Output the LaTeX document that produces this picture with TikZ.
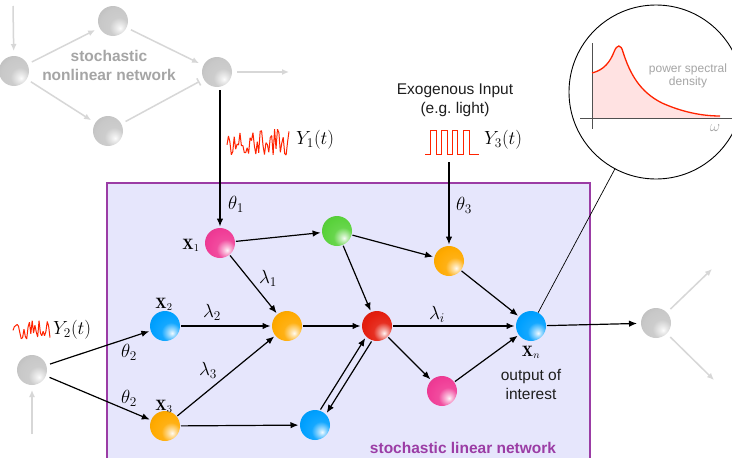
\RequirePackage{fix-cm}
\documentclass[tikz,border=0pt]{standalone}
\usepackage{fontspec}
\newfontfamily\hel{Liberation Sans}
\usetikzlibrary{arrows.meta}
\definecolor{cpink}{RGB}{240,60,150}
\definecolor{cgreen}{RGB}{90,210,60}
\definecolor{corange}{RGB}{255,170,0}
\definecolor{cblue}{RGB}{0,160,255}
\definecolor{cred}{RGB}{228,30,15}
\definecolor{cgray}{RGB}{200,200,200}
\definecolor{boxfill}{RGB}{230,230,252}
\definecolor{boxdraw}{RGB}{155,60,165}
\definecolor{cgline}{RGB}{215,215,215}
\definecolor{cgtext}{RGB}{165,165,165}
\definecolor{ctext}{RGB}{30,30,30}
\definecolor{cnoise}{RGB}{255,35,0}
\definecolor{cpsd}{RGB}{255,226,226}
\definecolor{caxis}{RGB}{80,80,80}
\makeatletter
\pgfdeclareradialshading[tikz@ball]{sphere}{\pgfpoint{12bp}{-12bp}}{%
color(0bp)=(tikz@ball!5!white); color(5bp)=(tikz@ball!35!white);
color(16bp)=(tikz@ball!92!white); color(30bp)=(tikz@ball);
color(50bp)=(tikz@ball!90!black); color(100bp)=(tikz@ball!90!black)}
\makeatother
\tikzset{
  sph/.style={circle, minimum size=30pt, inner sep=0pt, outer sep=0pt, ball color=#1, shading=sphere},
  arr/.style={draw=black, line width=1.2pt, -{Latex[length=8pt,width=6.5pt]}, shorten <=1pt, shorten >=1.5pt},
  garr/.style={draw=cgline, line width=1.5pt, -{Latex[length=7pt,width=6pt]}, shorten <=5pt, shorten >=5pt},
  mlab/.style={font=\fontsize{19}{22}\selectfont, inner sep=0pt},
  xlab/.style={font=\fontsize{15}{17}\selectfont, inner sep=0pt},
  stxt/.style={font=\hel\fontsize{15.5}{19}\selectfont, align=center, text=ctext, inner sep=0pt},
  noise/.style={draw=cnoise, line width=1pt, line join=bevel},
}
\begin{document}
\begin{tikzpicture}[x=1pt, y=-1pt]
\clip (0,0) rectangle (732,458);
\fill[white] (0,0) rectangle (732,458);
% linear network box
\draw[boxdraw, line width=1.2pt, fill=boxfill] (107,183) rectangle (590,470);
\node[font=\hel\bfseries\fontsize{15.5}{19}\selectfont, text=boxdraw, inner sep=0pt] (boxlab) at (463,448) {stochastic linear network};

% nonlinear network (gray)
\node[sph=cgray] (g0) at (14,71) {};
\node[sph=cgray] (g1) at (113,21) {};
\node[sph=cgray] (g2) at (108,131) {};
\node[sph=cgray] (g3) at (217,72) {};
\node[font=\hel\bfseries\fontsize{15.5}{19}\selectfont, text=cgtext, align=center, inner sep=0pt] (nltxt) at (109,65) {stochastic\\nonlinear network};
\coordinate (gin) at (13,6);
\coordinate (gout) at (289,72);
\draw[garr, shorten <=0pt] (gin) -- (g0);
\draw[garr] (g0) -- (g1);
\draw[garr] (g1) -- (g3);
\draw[garr] (g0) -- (g2);
\draw[draw=cgline, line width=1.5pt, -{Bar[width=8pt]}, shorten <=5pt, shorten >=5pt] (g2) -- (g3);
\draw[garr, shorten >=0pt] (g3) -- (gout);

% linear network nodes
\node[sph=cpink] (x1) at (220,243) {};
\node[sph=cgreen] (gr) at (337,231) {};
\node[sph=corange] (o3) at (449,261) {};
\node[sph=cblue] (x2) at (165,326) {};
\node[sph=corange] (om) at (287,326) {};
\node[sph=cred] (rd) at (377,326) {};
\node[sph=cblue] (xn) at (531,326) {};
\node[sph=corange] (x3) at (165,426) {};
\node[sph=cblue] (bb) at (315,425) {};
\node[sph=cpink] (pb) at (442,391) {};
\node[sph=cgray] (gL) at (32,370) {};
\node[sph=cgray] (gR) at (656,323) {};

\node[xlab] (lx1) at (191,245) {$\mathbf{X}_1$};
\node[xlab] (lx2) at (164,304) {$\mathbf{X}_2$};
\node[xlab] (lx3) at (164,406) {$\mathbf{X}_3$};
\node[xlab] (lxn) at (531,352) {$\mathbf{X}_n$};
\node[stxt] (outtxt) at (531,384) {output of\\interest};

% arrows
\draw[arr] (x1) -- (gr);
\draw[arr] (x1) -- (om);
\draw[arr] (gr) -- (rd);
\draw[arr] (gr) -- (o3);
\draw[arr] (o3) -- (xn);
\draw[arr] (x2) -- (om);
\draw[arr] (x3) -- (om);
\draw[arr] (x3) -- (bb);
\draw[arr] (om) -- (rd);
\draw[arr] (rd) -- (xn);
\draw[arr] (rd) -- (pb);
\draw[arr] (pb) -- (xn);
\draw[arr, shorten >=4pt] (xn) -- (gR);
\draw[arr, transform canvas={shift={(-3,-1.9)}}] (bb) -- (rd);
\draw[arr, transform canvas={shift={(3,1.9)}}] (rd) -- (bb);
\draw[arr, shorten <=4pt] (gL) -- (x2);
\draw[arr, shorten <=4pt] (gL) -- (x3);

\node[mlab] (l1) at (268,278) {$\lambda_1$};
\node[mlab] (l2) at (212,312) {$\lambda_2$};
\node[mlab] (l3) at (208,370) {$\lambda_3$};
\node[mlab] (li) at (437,314) {$\lambda_i$};
\node[mlab] (t2a) at (129,352) {$\theta_2$};
\node[mlab] (t2b) at (129,398) {$\theta_2$};

% gray outputs / inputs
\coordinate (gLin) at (32,434);
\draw[garr, shorten <=0pt] (gLin) -- (gL);
\coordinate (gRu) at (712,269);
\coordinate (gRd) at (714,380);
\draw[garr, shorten >=0pt] (gR) -- (gRu);
\draw[garr, shorten >=0pt] (gR) -- (gRd);

% input Y1
\coordinate (y1s) at (220,90);
\draw[arr, shorten <=0pt] (y1s) -- (x1);
\node[mlab] (t1) at (236,204) {$\theta_1$};
\pgfmathsetseed{7}
\draw[noise] plot[domain=227:289, samples=44, variable=\t] (\t, {142+13*rand});
\node[mlab, anchor=west] (y1lab) at (296,140) {$Y_1(t)$};

% input Y2
\pgfmathsetseed{11}
\draw[noise] plot[domain=13:50, samples=28, variable=\t] (\t, {330+11*rand});
\node[mlab, anchor=west] (y2lab) at (53,330) {$Y_2(t)$};

% input Y3
\node[stxt] (exo) at (455,100) {Exogenous Input\\(e.g.\ light)};
\draw[noise, line join=miter] (425,154) -- (430,154) -- (430,130) -- (436,130) -- (436,154) -- (441,154) -- (441,130) -- (447,130) -- (447,154) -- (452,154) -- (452,130) -- (457,130) -- (457,154) -- (463,154) -- (463,130) -- (469,130) -- (469,154) -- (479,154);
\node[mlab, anchor=west] (y3lab) at (484,140) {$Y_3(t)$};
\coordinate (y3s) at (449,162);
\draw[arr, shorten <=0pt] (y3s) -- (o3);
\node[mlab] (t3) at (464,205) {$\theta_3$};

% power spectral density inset
\node[circle, draw=black, line width=0.9pt, fill=white, minimum size=174pt, inner sep=0pt] (inset) at (656,92) {};
\draw[line width=0.7pt] (xn) -- (inset);
\fill[cpsd] (592,118) -- (592,73) .. controls (604,70) and (610,62) .. (614,52) .. controls (617,44) and (621,44) .. (623,52) .. controls (630,74) and (640,92) .. (662,103) .. controls (682,112) and (702,116) .. (720,116) -- (720,118) -- cycle;
\draw[caxis, line width=0.9pt] (592,43) -- (592,129);
\draw[caxis, line width=0.9pt] (580,118) -- (732,118);
\draw[cnoise, line width=1.3pt] (592,73) .. controls (604,70) and (610,62) .. (614,52) .. controls (617,44) and (621,44) .. (623,52) .. controls (630,74) and (640,92) .. (662,103) .. controls (682,112) and (702,116) .. (720,116);
\node[font=\hel\fontsize{12}{13}\selectfont, text=cgtext, align=center, inner sep=0pt] (psd) at (688,76) {power spectral\\density};
\node[font=\fontsize{16}{18}\selectfont, text=cgtext, inner sep=0pt] (omg) at (715,128) {$\omega$};
\end{tikzpicture}
\end{document}
